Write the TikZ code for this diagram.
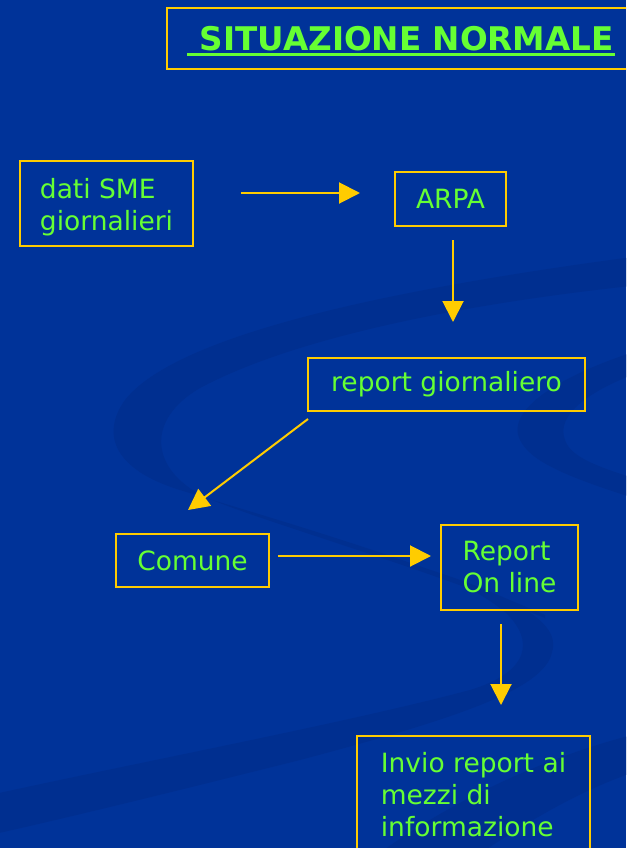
\documentclass[tikz,border=0pt]{standalone}
\usepackage{fontspec}
\setmainfont{DejaVu Sans}
\usetikzlibrary{arrows.meta}
\definecolor{bg}{RGB}{0,51,153}
\definecolor{swirl}{RGB}{0,47,144}
\definecolor{gold}{RGB}{255,204,0}
\definecolor{lgreen}{RGB}{102,255,51}
\begin{document}
\begin{tikzpicture}[x=1pt,y=-1pt,
  box/.style={draw=gold, line width=1.8pt, text=lgreen,
    font=\fontsize{26.5}{32}\selectfont, align=left, inner sep=0pt},
  arr/.style={draw=gold, line width=2pt, -{Triangle[length=21pt,width=21pt]}}]
\fill[bg] (0,0) rectangle (626,848);
\useasboundingbox (0,0) rectangle (626,848);
\clip (0,0) rectangle (626,848);
% background swirl
\fill[swirl] (640,256) .. controls (420,285) and (180,330) .. (125,400)
  .. controls (100,435) and (115,470) .. (180,490)
  .. controls (260,515) and (420,560) .. (545,615)
  -- (545,618)
  .. controls (420,566) and (260,521) .. (205,497)
  .. controls (150,470) and (145,420) .. (200,388)
  .. controls (290,340) and (450,305) .. (640,285) -- cycle;
\fill[swirl] (640,350) .. controls (560,375) and (505,410) .. (520,440)
  .. controls (530,460) and (560,475) .. (640,500) -- (640,480)
  .. controls (590,465) and (570,455) .. (565,440)
  .. controls (555,415) and (590,390) .. (640,372) -- cycle;
\fill[swirl] (430,570) .. controls (510,595) and (562,622) .. (552,652)
  .. controls (545,690) and (450,720) .. (300,760)
  .. controls (200,785) and (80,815) .. (-10,835) -- (-10,795)
  .. controls (150,760) and (350,722) .. (470,690)
  .. controls (530,672) and (535,640) .. (505,612)
  .. controls (485,596) and (460,582) .. (430,570) -- cycle;
\fill[swirl] (640,733) .. controls (550,755) and (450,800) .. (370,860)
  -- (470,860) .. controls (530,820) and (580,790) .. (640,770) -- cycle;
% title
\node[draw=gold, line width=1.8pt, text=lgreen, anchor=west,
  font=\fontsize{32.6}{38}\bfseries\selectfont,
  inner xsep=33pt, minimum height=61pt] (title) at (166,38.5) {SITUAZIONE NORMALE};
\draw[lgreen, line width=3.5pt] ([shift={(21,4)}]title.base west) -- ([shift={(449,4)}]title.base west);
% boxes
\node[box, minimum width=173pt, minimum height=85pt] (dati) at (106.5,203.5) {\rule{0pt}{27pt}dati SME\\giornalieri};
\node[box, minimum width=111pt, minimum height=54pt] (arpa) at (450.5,199) {ARPA};
\node[box, minimum width=277pt, minimum height=53pt] (report) at (446.5,384.5) {report giornaliero};
\node[box, minimum width=153pt, minimum height=53pt] (comune) at (192.5,560.5) {Comune};
\node[box, minimum width=137pt, minimum height=85pt] (online) at (509.5,567.5) {Report\\On line};
\node[box, minimum width=233pt, minimum height=118pt] (invio) at (473.5,795) {Invio report ai\\mezzi di\\informazione};
% connectors
\coordinate (a1s) at (241,193); \coordinate (a1e) at (360,193);
\coordinate (a2s) at (453,240); \coordinate (a2e) at (453,322);
\coordinate (a3s) at (308,419); \coordinate (a3e) at (188,510);
\coordinate (a4s) at (278,556); \coordinate (a4e) at (431,556);
\coordinate (a5s) at (501,624); \coordinate (a5e) at (501,705);
\draw[arr] (a1s) -- (a1e);
\draw[arr] (a2s) -- (a2e);
\draw[arr] (a3s) -- (a3e);
\draw[arr] (a4s) -- (a4e);
\draw[arr] (a5s) -- (a5e);
\end{tikzpicture}
\end{document}
